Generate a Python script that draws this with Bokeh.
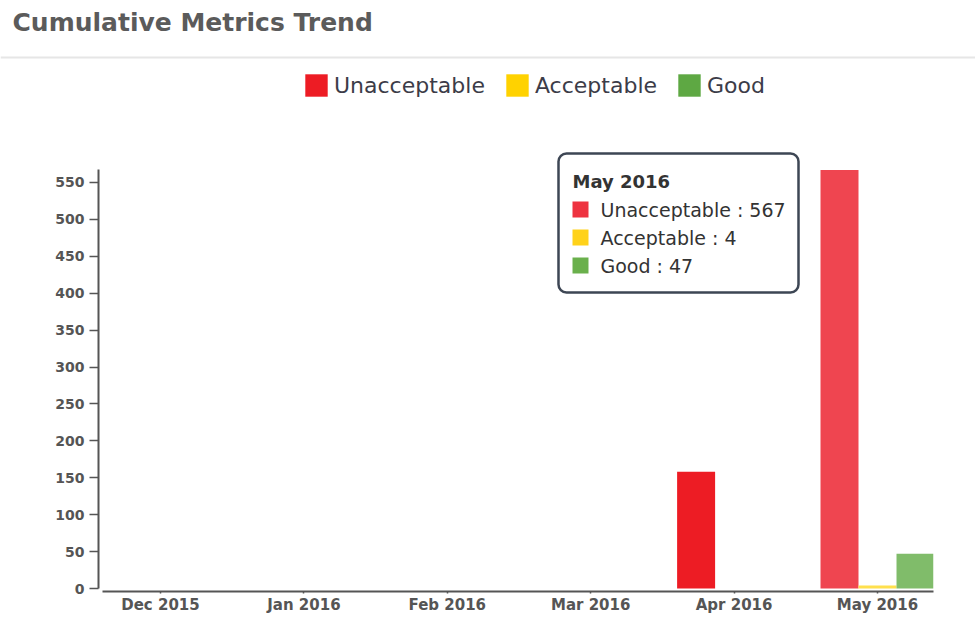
from bokeh.plotting import figure
from bokeh.models import (Range1d, FixedTicker, Legend, LegendItem,
                          BoxAnnotation, ColumnDataSource)
from bokeh.layouts import column, row
from bokeh.core.properties import value
from bokeh.embed import file_html
from bokeh.resources import INLINE

# ---------------- data ----------------
months = ["Dec 2015", "Jan 2016", "Feb 2016", "Mar 2016", "Apr 2016", "May 2016"]
unacceptable = [0, 0, 0, 0, 158, 567]
acceptable = [0, 0, 0, 0, 0, 4]
good = [0, 0, 0, 0, 0, 47]
series_names = ["Unacceptable", "Acceptable", "Good"]
series_values = [unacceptable, acceptable, good]
series_colors = ["#ed1c24", "#ffd200", "#5ea843"]
highlight_colors = ["#ef4550", "#ffe04d", "#80bc6a"]
tooltip_colors = ["#ee3340", "#ffd21a", "#6ab04c"]
highlight_month = "May 2016"
y_ticks = list(range(0, 551, 50))
title_text = "Cumulative Metrics Trend"

# ---------------- layout constants ----------------
W = 975
HEADER_H = 60
MAIN_H = 557
B_LEFT, B_RIGHT, B_TOP, B_BOTTOM = 98, 42, 6, 26
FRAME_W = W - B_LEFT - B_RIGHT
FRAME_H = MAIN_H - B_TOP - B_BOTTOM
PX_X = 143.4      # px per category
PX_Y = 0.7382     # px per unit
x_start = -0.4324
x_end = x_start + FRAME_W / PX_X
y_start = -3 / PX_Y
y_end = y_start + FRAME_H / PX_Y
bar_w = 38 / PX_X

PAGE_FRAME_LEFT = B_LEFT
PAGE_FRAME_BOTTOM = HEADER_H + B_TOP + FRAME_H


def dx(page_x):
    return x_start + (page_x - PAGE_FRAME_LEFT) / PX_X


def dy(page_y):
    return y_start + (PAGE_FRAME_BOTTOM - page_y) / PX_Y


FONT = "DejaVu Sans"
AXIS_COLOR = "#555555"

# ---------------- header ----------------
header = figure(width=W, height=HEADER_H, x_range=Range1d(0, W), y_range=Range1d(0, HEADER_H),
                toolbar_location=None, output_backend="svg", min_border=0,
                x_axis_type=None, y_axis_type=None, outline_line_color=None)
header.grid.visible = False
header.text(x=[12], y=[HEADER_H - 22], text=[title_text], text_font=value(FONT), text_font_style="bold",
            text_font_size=value("25px"), text_color="#5b5b5b",
            text_baseline="middle", text_align="left")
header.segment(x0=[0], y0=[3], x1=[W], y1=[3], line_color="#e6e6e6", line_width=2)

# ---------------- main chart ----------------
p = figure(width=W, height=MAIN_H, x_range=Range1d(x_start, x_end), y_range=Range1d(y_start, y_end),
           toolbar_location=None, output_backend="svg",
           min_border_left=B_LEFT, min_border_right=B_RIGHT,
           min_border_top=B_TOP, min_border_bottom=B_BOTTOM,
           outline_line_color=None)
p.grid.visible = False

n = len(series_names)
items = []
for i, (name, vals) in enumerate(zip(series_names, series_values)):
    offset = (i - (n - 1) / 2) * bar_w
    xs = [k + offset for k in range(len(months))]
    colors = [highlight_colors[i] if m == highlight_month else series_colors[i] for m in months]
    src = ColumnDataSource(dict(x=xs, top=vals, color=colors))
    r = p.vbar(x="x", top="top", bottom=0, width=bar_w, fill_color="color", line_color=None, source=src)
    items.append(LegendItem(label=name, renderers=[r], index=0))

GLYPH = 28
legend = Legend(items=items, orientation="horizontal",
                location=(305 - 3 - B_LEFT, PAGE_FRAME_BOTTOM - (96 + 3)),
                glyph_width=GLYPH, glyph_height=GLYPH, label_standoff=4, spacing=18,
                padding=0, margin=0, border_line_color=None, background_fill_alpha=0,
                label_text_font=FONT, label_text_font_size="22px", label_text_color="#3c3c48",
                label_height=GLYPH)
p.add_layout(legend, "center")

# axes
p.xaxis.ticker = FixedTicker(ticks=list(range(len(months))))
p.xaxis.major_label_overrides = {k: m for k, m in enumerate(months)}
p.xaxis.bounds = (dx(102), x_end)
p.xaxis.minor_tick_line_color = None
p.xaxis.major_tick_in = 0
p.xaxis.major_tick_out = 2
p.xaxis.major_label_standoff = 2

p.yaxis.ticker = FixedTicker(ticks=y_ticks)
p.yaxis.bounds = (0, max(unacceptable))
p.yaxis.minor_tick_line_color = None
p.yaxis.major_tick_in = 0
p.yaxis.major_tick_out = 9
p.yaxis.major_label_standoff = 5

for ax in (p.xaxis, p.yaxis):
    ax.axis_line_color = AXIS_COLOR
    ax.axis_line_width = 2
    ax.major_tick_line_color = AXIS_COLOR
    ax.major_tick_line_width = 1.5
    ax.major_label_text_font = FONT
    ax.major_label_text_font_style = "bold"
    ax.major_label_text_color = AXIS_COLOR
p.yaxis.major_label_text_font_size = "14px"
p.xaxis.major_label_text_font_size = "15px"

# ---------------- tooltip (static) ----------------
hi = months.index(highlight_month)
tip = BoxAnnotation(left=dx(558), right=dx(798), top=dy(153), bottom=dy(292),
                    fill_color="white", fill_alpha=1.0, line_color="#3d4654", line_alpha=1.0,
                    line_width=2.5, border_radius=8, level="underlay")
p.add_layout(tip)
p.text(x=[dx(572)], y=[dy(181)], text=[highlight_month], text_font=value(FONT),
       text_font_style="bold", text_font_size=value("18px"), text_color="#333333",
       text_baseline="middle", text_align="left")
row_y = [dy(209), dy(237), dy(265)]
p.rect(x=[dx(580)] * n, y=row_y, width=16, height=16, width_units="screen", height_units="screen",
       fill_color=tooltip_colors, line_color=None)
p.text(x=[dx(600)] * n, y=row_y,
       text=[f"{nm} : {vals[hi]}" for nm, vals in zip(series_names, series_values)],
       text_font=value(FONT), text_font_size=value("19px"), text_color="#333333",
       text_baseline="middle", text_align="left")

layout = column(row(header), row(p), spacing=0)
open("out.html", "w").write(file_html(layout, INLINE))
